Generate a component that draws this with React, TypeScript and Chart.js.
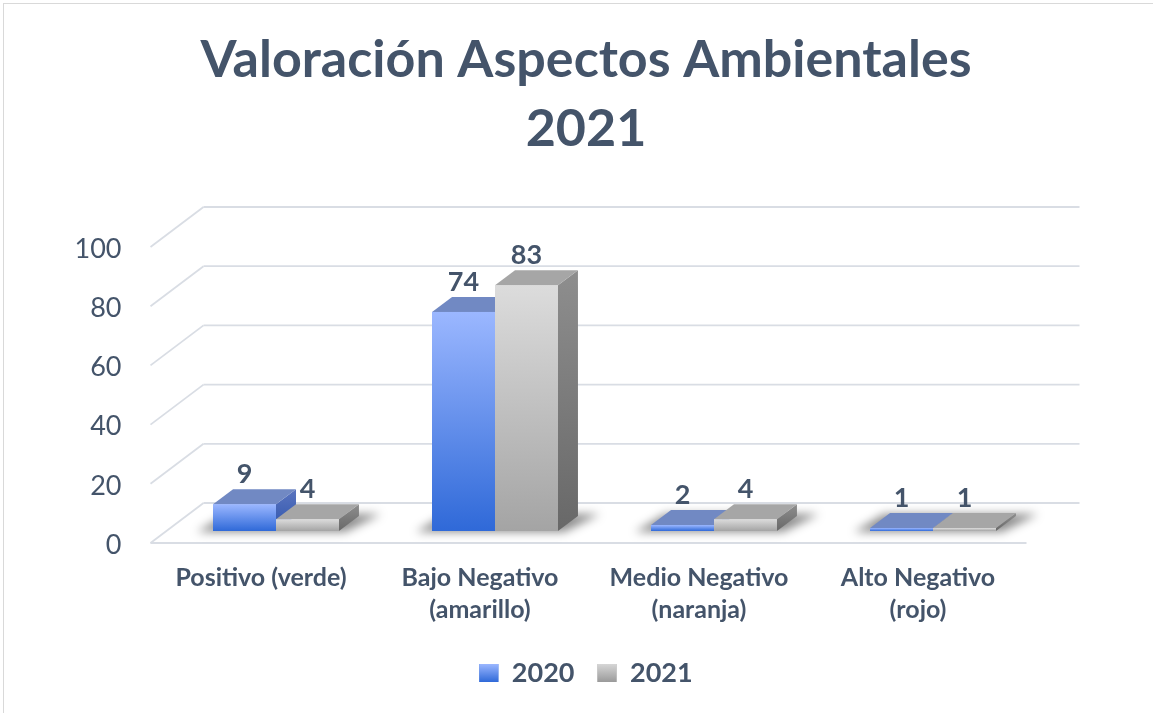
import React, { useEffect, useRef } from "react";
import { Chart, registerables } from "chart.js";

Chart.register(...registerables);

// ---------- data ----------
const titleLines = ["Valoración Aspectos Ambientales", "2021"];
const categories = [
  ["Positivo (verde)"],
  ["Bajo Negativo", "(amarillo)"],
  ["Medio Negativo", "(naranja)"],
  ["Alto Negativo", "(rojo)"],
];
const seriesLabels = ["2020", "2021"];
const values2020 = [9, 74, 2, 1];
const values2021 = [4, 83, 4, 1];
const yTickValues = [0, 20, 40, 60, 80, 100];

// ---------- style ----------
const FONT = "Lato, 'Open Sans', 'DejaVu Sans', sans-serif";
const TEXT = "#44546a";
const GRID = "#d9dde4";

const palettes = [
  { frontTop: "#9bb7ff", frontBottom: "#2f69d8", top: "#7189c3", sideTop: "#5b75bf", sideBottom: "#2d54ad", legendTop: "#9bb7ff", legendBottom: "#2f69d8" },
  { frontTop: "#dcdcdc", frontBottom: "#a4a4a4", top: "#a6a6a6", sideTop: "#8e8e8e", sideBottom: "#686868", legendTop: "#d6d6d6", legendBottom: "#9a9a9a" },
];

// 3D offsets (pixels) relative to the bar plane
const DEPTH = { dx: 20, dy: -15 };
const FRONT = { dx: -16, dy: 12 };
const BACK = { dx: 37, dy: -28 };

const PAD = { left: 60, right: 41, top: 0, bottom: 16.5 };
const Y_AXIS_W = 106.5;
const Y2_AXIS_W = 69.5;
const PLOT_H = 296;

function frontFill(p: any) {
  return (c: any) => {
    const chart = c.chart;
    const y = chart.scales && chart.scales.y;
    if (c.type !== "data" || !y || !chart.chartArea) return p.frontBottom;
    const top = y.getPixelForValue(c.raw);
    const bottom = y.getPixelForValue(0);
    const g = chart.ctx.createLinearGradient(0, top, 0, bottom + 0.01);
    g.addColorStop(0, p.frontTop);
    g.addColorStop(1, p.frontBottom);
    return g;
  };
}

function line(ctx: CanvasRenderingContext2D, x1: number, y1: number, x2: number, y2: number) {
  ctx.beginPath();
  ctx.moveTo(x1, y1);
  ctx.lineTo(x2, y2);
  ctx.stroke();
}

const threeD = {
  id: "threeD",
  beforeDatasetsDraw(chart: any) {
    const ctx: CanvasRenderingContext2D = chart.ctx;
    const ca = chart.chartArea;
    const y = chart.scales.y;
    ctx.save();
    ctx.strokeStyle = GRID;
    ctx.lineWidth = 1.8;
    for (const v of yTickValues) {
      const py = y.getPixelForValue(v);
      line(ctx, ca.left + BACK.dx, py + BACK.dy, ca.right + BACK.dx, py + BACK.dy);
      line(ctx, ca.left + FRONT.dx, py + FRONT.dy, ca.left + BACK.dx, py + BACK.dy);
    }
    const p0 = y.getPixelForValue(0);
    line(ctx, ca.left + FRONT.dx, p0 + FRONT.dy, ca.right + FRONT.dx, p0 + FRONT.dy);

    // soft shadows on the floor
    const metas = chart.data.datasets.map((_: any, i: number) => chart.getDatasetMeta(i));
    const n = chart.data.labels.length;
    for (let i = 0; i < n; i++) {
      let L = Infinity, R = -Infinity, base = 0;
      metas.forEach((m: any) => {
        const el = m.data[i];
        const pr = el.getProps(["x", "base", "width"], true);
        L = Math.min(L, pr.x - pr.width / 2);
        R = Math.max(R, pr.x + pr.width / 2);
        base = pr.base;
      });
      ctx.save();
      ctx.filter = "blur(5px)";
      ctx.fillStyle = "rgba(0,0,0,0.45)";
      ctx.beginPath();
      ctx.moveTo(L - 16, base + 1);
      ctx.lineTo(R + 6, base + 1);
      ctx.lineTo(R + DEPTH.dx + 22, base + DEPTH.dy - 2);
      ctx.lineTo(L + DEPTH.dx - 6, base + DEPTH.dy - 2);
      ctx.closePath();
      ctx.fill();
      ctx.restore();
    }
    ctx.restore();
  },
  afterDatasetsDraw(chart: any) {
    const ctx: CanvasRenderingContext2D = chart.ctx;
    const n = chart.data.labels.length;
    const metas = chart.data.datasets.map((_: any, i: number) => chart.getDatasetMeta(i));
    ctx.save();
    for (let i = 0; i < n; i++) {
      metas.forEach((meta: any, di: number) => {
        const el = meta.data[i];
        const { x, y, base, width } = el.getProps(["x", "y", "base", "width"], true);
        const L = x - width / 2;
        const R = x + width / 2;
        const p = palettes[di];
        // side face
        const sg = ctx.createLinearGradient(0, y + DEPTH.dy, 0, base + 0.01);
        sg.addColorStop(0, p.sideTop);
        sg.addColorStop(1, p.sideBottom);
        ctx.fillStyle = sg;
        ctx.beginPath();
        ctx.moveTo(R, y);
        ctx.lineTo(R + DEPTH.dx, y + DEPTH.dy);
        ctx.lineTo(R + DEPTH.dx, base + DEPTH.dy);
        ctx.lineTo(R, base);
        ctx.closePath();
        ctx.fill();
        // top face
        ctx.fillStyle = p.top;
        ctx.beginPath();
        ctx.moveTo(L, y);
        ctx.lineTo(R, y);
        ctx.lineTo(R + DEPTH.dx, y + DEPTH.dy);
        ctx.lineTo(L + DEPTH.dx, y + DEPTH.dy);
        ctx.closePath();
        ctx.fill();
        // front face (redrawn to keep correct overlap)
        ctx.fillStyle = el.options.backgroundColor;
        ctx.fillRect(L, y, width, base - y);
      });
    }
    // value labels
    ctx.font = `bold 27px ${FONT}`;
    ctx.fillStyle = TEXT;
    ctx.textAlign = "center";
    ctx.textBaseline = "alphabetic";
    metas.forEach((meta: any, di: number) => {
      meta.data.forEach((el: any, i: number) => {
        ctx.fillText(String(chart.data.datasets[di].data[i]), el.x, el.y - 21);
      });
    });
    ctx.restore();
  },
  afterDraw(chart: any) {
    const legend = chart.legend;
    if (!legend || !legend.legendHitBoxes) return;
    const ctx: CanvasRenderingContext2D = chart.ctx;
    const lab = legend.options.labels;
    const fontSize = lab.font.size;
    legend.legendHitBoxes.forEach((hb: any, i: number) => {
      const p = palettes[i];
      const top = hb.top + Math.max((fontSize - lab.boxHeight) / 2, 0);
      const g = ctx.createLinearGradient(0, top, 0, top + lab.boxHeight);
      g.addColorStop(0, p.legendTop);
      g.addColorStop(1, p.legendBottom);
      ctx.fillStyle = g;
      ctx.fillRect(hb.left, top, lab.boxWidth, lab.boxHeight);
    });
  },
};

export default function App() {
  const ref = useRef<HTMLCanvasElement>(null);
  useEffect(() => {
    const chart = new Chart(ref.current as HTMLCanvasElement, {
      type: "bar",
      data: {
        labels: categories as any,
        datasets: [
          { label: seriesLabels[0], data: values2020, backgroundColor: frontFill(palettes[0]) as any, borderWidth: 0, clip: false as any },
          { label: seriesLabels[1], data: values2021, backgroundColor: frontFill(palettes[1]) as any, borderWidth: 0, clip: false as any },
        ],
      },
      options: {
        responsive: false,
        animation: false,
        events: [],
        datasets: { bar: { categoryPercentage: 0.575, barPercentage: 1 } } as any,
        layout: { padding: PAD },
        plugins: {
          title: {
            display: true,
            text: titleLines,
            color: TEXT,
            font: { family: FONT, size: 52, weight: "bold", lineHeight: 69.5 / 52 },
            padding: { top: 25, bottom: 71 },
          },
          legend: {
            position: "bottom",
            labels: {
              boxWidth: 19,
              boxHeight: 18,
              padding: 23,
              color: TEXT,
              font: { family: FONT, size: 27, weight: "bold" },
              generateLabels: () =>
                seriesLabels.map((t, i) => ({
                  text: t,
                  fillStyle: palettes[i].frontBottom,
                  strokeStyle: "rgba(0,0,0,0)",
                  lineWidth: 0,
                  hidden: false,
                  datasetIndex: i,
                  fontColor: TEXT,
                })),
            },
          },
          tooltip: { enabled: false },
        },
        scales: {
          x: {
            grid: { display: false, drawTicks: false },
            border: { display: false },
            ticks: {
              color: TEXT,
              font: { family: FONT, size: 25, weight: "bold", lineHeight: 32 / 25 },
              padding: 31,
              labelOffset: -15,
              maxRotation: 0,
              autoSkip: false,
            },
            afterFit: (axis: any) => {
              const c = axis.chart;
              const lh = c.legend ? c.legend.height : 60;
              const th = c.titleBlock ? c.titleBlock.height : 235;
              axis.height = c.height - PAD.bottom - lh - th - PLOT_H;
            },
          },
          y: {
            min: 0,
            max: 100,
            grid: { display: false, drawTicks: false },
            border: { display: false },
            afterBuildTicks: (axis: any) => {
              axis.ticks = yTickValues.map((v) => ({ value: v }));
            },
            ticks: {
              color: TEXT,
              font: { family: FONT, size: 27 },
              padding: 45,
              labelOffset: 14,
            },
            afterFit: (axis: any) => {
              axis.width = Y_AXIS_W;
            },
          },
          y2: {
            position: "right",
            min: 0,
            max: 100,
            grid: { display: false, drawTicks: false },
            border: { display: false },
            ticks: { display: false },
            afterFit: (axis: any) => {
              axis.width = Y2_AXIS_W;
            },
          },
        },
      },
      plugins: [threeD],
    });
    return () => chart.destroy();
  }, []);

  return (
    <div style={{ position: "fixed", left: 0, top: 0, width: 1153, height: 713, background: "#fff", overflow: "hidden" }}>
      <div style={{ position: "absolute", left: 3, top: 3, width: 1200, height: 800, border: "1px solid #d9d9d9" }} />
      <canvas ref={ref} width={1153} height={713} style={{ position: "absolute", left: 0, top: 0 }} />
    </div>
  );
}
